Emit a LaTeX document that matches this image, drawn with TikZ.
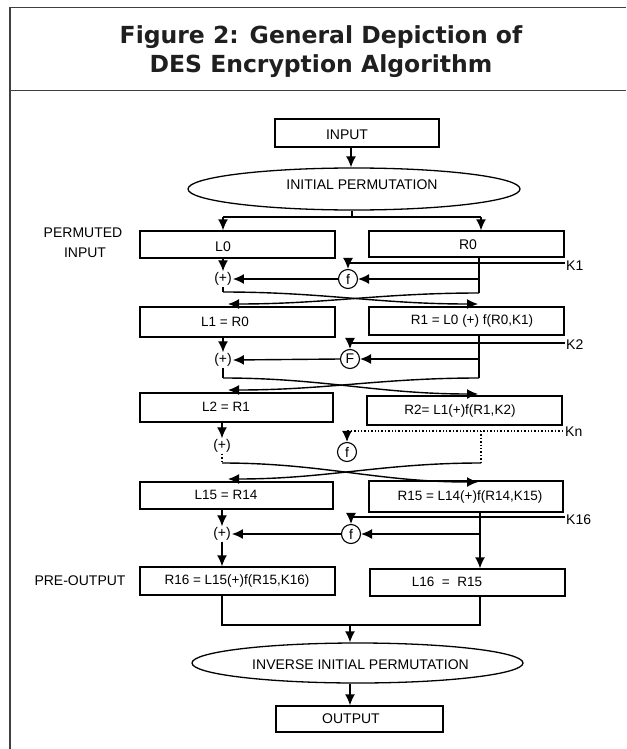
\documentclass[tikz,border=0pt]{standalone}
\usepackage{fontspec}
\setmainfont{Liberation Sans}
\newfontfamily\ttlfont{DejaVu Sans}
\usetikzlibrary{shapes.geometric,arrows.meta}
\newcommand\dslab{\fontsize{14}{14}\selectfont}
\newcommand\dseq{\fontsize{13.5}{13.5}\selectfont}
\begin{document}
\begin{tikzpicture}[x=1pt,y=-1pt,
  frame/.style={draw=black!75,line width=1.4pt},
  ln/.style={line width=1.4pt,black},
  arr/.style={ln,-{Latex[length=11pt,width=10pt]}},
  dotln/.style={line width=1.4pt,black,dotted},
  box/.style={draw,line width=1.4pt,minimum width=195pt,minimum height=28pt,inner sep=0pt},
  lbl/.style={inner sep=0pt,font=\dslab},
  eq/.style={inner sep=0pt,font=\dseq},
  fc/.style={draw,circle,line width=1.1pt,minimum size=19pt,inner sep=0pt,font=\dslab},
  pl/.style={inner sep=1pt,font=\dslab},
  ell/.style={draw,ellipse,line width=1.3pt,minimum width=332pt,minimum height=42pt,inner sep=0pt},
  ttl/.style={inner sep=0pt,anchor=base,text=black!88,font=\ttlfont\bfseries\fontsize{23.5}{23.5}\selectfont}]
\useasboundingbox (0,0) rectangle (626,749);
% frame
\draw[frame] (10,7.5) -- (626,7.5);
\draw[frame] (10,7.5) -- (10,749);
\draw[frame] (10,90.5) -- (626,90.5);
\node[ttl] (t1) at (321,43.3) {Figure 2: General Depiction of};
\node[ttl] (t2) at (321,72.5) {DES Encryption Algorithm};
% top part
\node[box,minimum width=164pt] (inp) at (357,133) {};
\node[lbl] (inpt) at (347,134.5) {INPUT};
\node[ell] (ip) at (354,189) {};
\node[lbl] (ipt) at (362,184.5) {INITIAL PERMUTATION};
\coordinate (ax) at (351,0);
\draw[arr] (inp.south -| ax) -- (ip.north -| ax);
\coordinate (sp) at (352,217);
\coordinate (spl) at (223,217);
\coordinate (spr) at (481,217);
\draw[ln] (ip.south -| sp) -- (sp);
\draw[ln] (spl) -- (spr);
% row 0 boxes
\node[box,minimum height=27pt] (L0) at (237.5,244.5) {};
\node[box,minimum height=26pt] (R0) at (466.5,244) {};
\node[lbl] (L0t) at (223,247) {L0};
\node[lbl] (R0t) at (468,245) {R0};
\draw[arr] (spl) -- (L0.north -| spl);
\draw[arr] (spr) -- (R0.north -| spr);
\node[lbl] (perm1) at (83,233) {PERMUTED};
\node[lbl] (perm2) at (85,253) {INPUT};
% round 1
\node[pl] (p1) at (223,279) {(+)};
\node[fc] (f1) at (348,279) {f};
\coordinate (k1e) at (565,263);
\node[lbl,anchor=west] (k1) at (566,266) {K1};
\draw[arr] (k1e) -| (f1.north);
\coordinate (r1a) at (479,279);
\coordinate (r1b) at (479,293);
\coordinate (l1a) at (223,292);
\draw[arr] (L0.south -| p1) -- (p1.north);
\draw[ln] (R0.south -| r1a) -- (r1b);
\draw[arr] (r1a) -- (f1.east);
\draw[arr] (f1.west) -- (p1.east);
\draw[ln] (p1.south) -- (l1a);
\coordinate (c1r) at (478,304);
\coordinate (c1l) at (228,304);
\draw[arr] (l1a) to[out=0,in=180] (c1r);
\draw[arr] (r1b) to[out=180,in=0] (c1l);
% row 1 boxes
\node[box,minimum height=30pt] (L1) at (237.5,322) {};
\node[box,minimum height=28pt] (R1) at (466.5,321) {};
\node[eq] (L1t) at (225,322) {L1 = R0};
\node[eq] (R1t) at (472,321) {R1 = L0 (+) f(R0,K1)};
% round 2
\node[pl] (p2) at (223,360) {(+)};
\node[fc] (f2) at (350,359) {F};
\coordinate (k2e) at (565,343);
\node[lbl,anchor=west] (k2) at (566,345) {K2};
\draw[arr] (k2e) -| (f2.north);
\coordinate (r2a) at (479,359);
\coordinate (r2b) at (479,378);
\coordinate (l2a) at (223,378);
\draw[arr] (L1.south -| p2) -- (p2.north);
\draw[ln] (R1.south -| r2a) -- (r2b);
\draw[arr] (r2a) -- (f2.east);
\draw[arr] (f2.west) -- (p2.east);
\draw[ln] (p2.south) -- (l2a);
\coordinate (c2r) at (478,394);
\coordinate (c2l) at (228,390);
\draw[arr] (l2a) to[out=0,in=180] (c2r);
\draw[arr] (r2b) to[out=180,in=0] (c2l);
% row 2 boxes
\node[box,minimum width=193pt,minimum height=29pt] (L2) at (236.5,407.5) {};
\node[box,minimum height=29pt] (R2) at (464.5,410.5) {};
\node[eq] (L2t) at (226,407) {L2 = R1};
\node[eq] (R2t) at (460,411) {R2= L1(+)f(R1,K2)};
% round n (dotted)
\node[pl] (p3) at (222,446) {(+)};
\node[fc] (f3) at (347,452) {f};
\coordinate (kne) at (563,431);
\coordinate (kna) at (347,431);
\node[lbl,anchor=west] (kn) at (565,432) {Kn};
\draw[dotln] (kne) -- (kna);
\draw[arr] (kna) -- (f3.north);
\coordinate (r3a) at (481,431);
\coordinate (r3b) at (481,463);
\coordinate (l3a) at (222,463);
\draw[arr] (L2.south -| p3) -- (p3.north);
\draw[dotln] (r3a) -- (r3b);
\draw[dotln] (p3.south) -- (l3a);
\coordinate (c3r) at (478,482);
\coordinate (c3l) at (228,479);
\draw[arr] (l3a) to[out=0,in=180] (c3r);
\draw[arr] (r3b) to[out=180,in=0] (c3l);
% row 15 boxes
\node[box,minimum width=193pt,minimum height=27pt] (L15) at (236.5,495.5) {};
\node[box,minimum width=194pt,minimum height=31pt] (R15) at (466,496.5) {};
\node[eq] (L15t) at (226,495) {L15 = R14};
\node[eq] (R15t) at (470,497) {R15 = L14(+)f(R14,K15)};
% round 16
\node[pl] (p4) at (222,534) {(+)};
\node[fc] (f4) at (351,534) {f};
\coordinate (k16e) at (565,517);
\node[lbl,anchor=west] (k16) at (566,520) {K16};
\draw[arr] (k16e) -| (f4.north);
\coordinate (r4a) at (480,534);
\draw[arr] (L15.south -| p4) -- (p4.north);
\draw[arr] (r4a) -- (f4.east);
\draw[arr] (f4.west) -- (p4.east);
% pre-output boxes
\node[box,minimum height=28pt] (R16) at (237.5,581) {};
\node[box,minimum height=27pt] (L16) at (467.5,582.5) {};
\node[eq] (R16t) at (237,581) {R16 = L15(+)f(R15,K16)};
\node[eq] (L16t) at (447,582) {L16 \ = \ R15};
\node[lbl] (preo) at (80,581) {PRE-OUTPUT};
\draw[ln] (R15.south -| r4a) -- (r4a);
\draw[arr] (r4a) -- (L16.north -| r4a);
\draw[arr] (p4.south) -- (R16.north -| p4);
% join and final
\coordinate (jl) at (222,625);
\coordinate (jr) at (480,625);
\coordinate (jm) at (350,625);
\draw[ln] (R16.south -| jl) -- (jl) -- (jr) -- (L16.south -| jr);
\node[ell,minimum width=331pt,minimum height=40pt] (iip) at (357.5,663) {};
\node[lbl] (iipt) at (360.5,665) {INVERSE INITIAL PERMUTATION};
\draw[arr] (jm) -- (iip.north -| jm);
\node[box,minimum width=167pt,minimum height=26pt] (out) at (359.5,719) {};
\node[lbl] (outt) at (351,718.5) {OUTPUT};
\draw[arr] (iip.south -| jm) -- (out.north -| jm);
\end{tikzpicture}
\end{document}
